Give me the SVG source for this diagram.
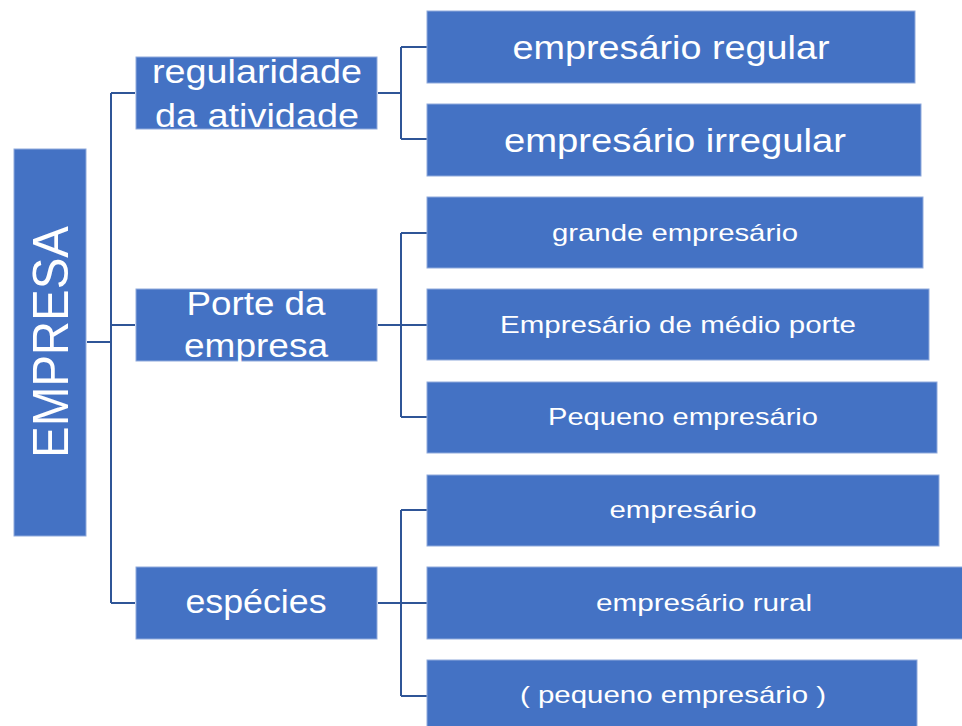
<svg xmlns="http://www.w3.org/2000/svg" width="962" height="726" viewBox="0 0 962 726">
<style>
.box{fill:#4472C4;stroke:#8FAADC;stroke-width:1}
.t{fill:#FFFFFF;font-family:"Liberation Sans","Open Sans",sans-serif;text-anchor:middle}
.c{fill:none;stroke:#2F5597;stroke-width:2}
</style>
<rect width="962" height="726" fill="#FFFFFF"/>
<g id="connectors">
<path class="c" d="M87,342 H111 M111,93 V603 M111,93 H135 M111,325 H135 M111,603 H135"/>
<path class="c" d="M378,93 H401 M401,47 V139 M401,47 H427 M401,139 H427"/>
<path class="c" d="M378,325 H427 M401,233 V417 M401,233 H427 M401,417 H427"/>
<path class="c" d="M378,603 H427 M401,510 V696 M401,510 H427 M401,696 H427"/>
</g>
<g id="empresa">
<rect class="box" x="14" y="149" width="72" height="387"/>
<text class="t" transform="translate(68,342) rotate(-90)" font-size="50" textLength="232" lengthAdjust="spacingAndGlyphs">EMPRESA</text>
</g>
<g id="regularidade">
<rect class="box" x="136" y="57" width="241" height="72"/>
<text class="t" x="257" y="83" font-size="33" textLength="210" lengthAdjust="spacingAndGlyphs">regularidade</text>
<text class="t" x="257" y="127" font-size="33" textLength="204" lengthAdjust="spacingAndGlyphs">da atividade</text>
</g>
<g id="porte">
<rect class="box" x="136" y="289" width="241" height="72"/>
<text class="t" x="256" y="315" font-size="33" textLength="139" lengthAdjust="spacingAndGlyphs">Porte da</text>
<text class="t" x="256" y="357" font-size="33" textLength="144" lengthAdjust="spacingAndGlyphs">empresa</text>
</g>
<g id="especies">
<rect class="box" x="136" y="567" width="241" height="72"/>
<text class="t" x="256" y="613" font-size="33" textLength="141" lengthAdjust="spacingAndGlyphs">espécies</text>
</g>
<g id="regular">
<rect class="box" x="427" y="11" width="488" height="72"/>
<text class="t" x="671" y="59" font-size="33" textLength="317" lengthAdjust="spacingAndGlyphs">empresário regular</text>
</g>
<g id="irregular">
<rect class="box" x="427" y="104" width="494" height="72"/>
<text class="t" x="675" y="152" font-size="33" textLength="342" lengthAdjust="spacingAndGlyphs">empresário irregular</text>
</g>
<g id="grande">
<rect class="box" x="427" y="197" width="496" height="71"/>
<text class="t" x="675" y="241" font-size="24" textLength="246" lengthAdjust="spacingAndGlyphs">grande empresário</text>
</g>
<g id="medio">
<rect class="box" x="427" y="289" width="502" height="71"/>
<text class="t" x="678" y="333" font-size="24" textLength="356" lengthAdjust="spacingAndGlyphs">Empresário de médio porte</text>
</g>
<g id="pequeno">
<rect class="box" x="427" y="382" width="510" height="71"/>
<text class="t" x="683" y="425" font-size="24" textLength="270" lengthAdjust="spacingAndGlyphs">Pequeno empresário</text>
</g>
<g id="empresario">
<rect class="box" x="427" y="475" width="512" height="71"/>
<text class="t" x="683" y="518" font-size="24" textLength="147" lengthAdjust="spacingAndGlyphs">empresário</text>
</g>
<g id="rural">
<rect class="box" x="427" y="567" width="560" height="72"/>
<text class="t" x="704" y="611" font-size="24" textLength="216" lengthAdjust="spacingAndGlyphs">empresário rural</text>
</g>
<g id="pequeno2">
<rect class="box" x="427" y="660" width="490" height="72"/>
<text class="t" x="673" y="703" font-size="24" textLength="306" lengthAdjust="spacingAndGlyphs">( pequeno empresário )</text>
</g>
</svg>
